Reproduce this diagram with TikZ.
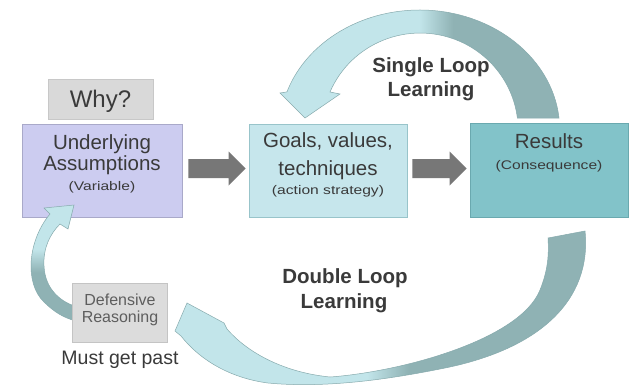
\documentclass[tikz,border=0pt]{standalone}
\usepackage{fontspec}
\setmainfont{Liberation Sans}
\usetikzlibrary{calc}
\definecolor{txt}{HTML}{3A3A3A}
\definecolor{deftxt}{HTML}{5E5E5E}
\definecolor{whyfill}{HTML}{D9D9D9}
\definecolor{whydraw}{HTML}{C8C8C8}
\definecolor{uafill}{HTML}{CCCCF0}
\definecolor{uadraw}{HTML}{A9A9C9}
\definecolor{gofill}{HTML}{C6E6EC}
\definecolor{godraw}{HTML}{98C4CA}
\definecolor{resfill}{HTML}{82C3C9}
\definecolor{resdraw}{HTML}{6AA9AF}
\definecolor{deffill}{HTML}{DCDCDC}
\definecolor{defdraw}{HTML}{C4C4C4}
\definecolor{garr}{HTML}{777777}
\definecolor{lc}{HTML}{C2E5EA}
\definecolor{dc}{HTML}{8FB2B4}
\definecolor{edgec}{HTML}{86AAAD}
\pgfdeclarehorizontalshading{slshade}{100bp}{color(0bp)=(lc); color(50bp)=(lc); color(56bp)=(dc); color(100bp)=(dc)}
\pgfdeclarehorizontalshading{dlshade}{100bp}{color(0bp)=(lc); color(48bp)=(lc); color(53bp)=(dc); color(100bp)=(dc)}
\pgfdeclareverticalshading{cshade}{100bp}{color(0bp)=(dc); color(46bp)=(dc); color(56bp)=(lc); color(100bp)=(lc)}
\newcommand\blockarr[2]{%
  \fill[garr] let \p1=(#1), \p2=(#2) in
    (\x1,\y1-9.5pt) -- (\x2-17pt,\y1-9.5pt) -- (\x2-17pt,\y1-17pt) -- (\x2,\y2)
    -- (\x2-17pt,\y1+17pt) -- (\x2-17pt,\y1+9.5pt) -- (\x1,\y1+9.5pt) -- cycle;}
\begin{document}
\begin{tikzpicture}[x=1pt,y=-1pt,
  box/.style={draw, line width=0.8pt, inner sep=0pt},
  title/.style={font=\fontsize{20.5}{24}\selectfont, text=txt, inner sep=0pt, anchor=base},
  sub/.style={font=\fontsize{12.5}{14}\selectfont, text=txt, inner sep=0pt, anchor=base},
  looptxt/.style={font=\fontsize{20.5}{24}\selectfont\bfseries, text=txt, inner sep=0pt, anchor=base},
  deftext/.style={font=\fontsize{16}{19}\selectfont, text=deftxt, inner sep=0pt, anchor=base},
  curved/.style={draw=edgec, line width=0.5pt}]
\fill[white] (0,0) rectangle (629,388);
\useasboundingbox (0,0) rectangle (629,388);

% single loop arrow
\shadedraw[curved, shading=slshade]
  (559,118) arc[start angle=-5.74, end angle=-161.5, x radius=140, y radius=120]
  -- (280,93) -- (305,118) -- (340,94) -- (330,92)
  arc[start angle=-156.9, end angle=-7.1, x radius=98, y radius=97] -- cycle;

% double loop arrow
\shadedraw[curved, shading=dlshade]
  (585,231) .. controls (592,300) and (540,350) .. (440,369)
  .. controls (380,381) and (320,388) .. (268,383)
  .. controls (230,378) and (200,360) .. (181,336)
  -- (175,331) -- (187,303) -- (224,323) -- (227,329)
  .. controls (245,350) and (280,372) .. (330,377)
  .. controls (400,372) and (520,340) .. (540,290)
  .. controls (548,270) and (549,255) .. (548,238) -- cycle;

% boxes
\node[box, fill=whyfill, draw=whydraw, minimum width=105pt, minimum height=40pt] (why) at (100.5,99) {};
\node[box, fill=uafill, draw=uadraw, minimum width=160pt, minimum height=93pt] (ua) at (102,170.5) {};
\node[box, fill=gofill, draw=godraw, minimum width=158pt, minimum height=93pt] (goals) at (328,170.5) {};
\node[box, fill=resfill, draw=resdraw, minimum width=158pt, minimum height=94pt] (res) at (549,170) {};

% block arrows
\coordinate (a1b) at ($(ua.east)+(6,-2)$);
\coordinate (a1t) at ($(goals.west)+(-3,-2)$);
\coordinate (a2b) at ($(goals.east)+(5,-2)$);
\coordinate (a2t) at ($(res.west)+(-3,-1.5)$);
\blockarr{a1b}{a1t}
\blockarr{a2b}{a2t}

% left C arrow
\shadedraw[curved, shading=cshade]
  (50,214) .. controls (28,240) and (24,283) .. (44,302)
  .. controls (54,312) and (64,318) .. (76,321)
  -- (78,307)
  .. controls (62,303) and (45,290) .. (44,266)
  .. controls (43,248) and (50,234) .. (60,224)
  -- (68,229) -- (74,205) -- (44,208) -- cycle;

\node[box, fill=deffill, draw=defdraw, minimum width=95pt, minimum height=59pt] (def) at (119.5,312.5) {};

% texts
\node[font=\fontsize{24}{28}\selectfont, text=txt, inner sep=0pt, anchor=base] (whyt) at (100.5,107) {Why?};
\node[title] (ua1) at (102,149.5) {Underlying};
\node[title] (ua2) at (102,170) {Assumptions};
\node[sub] (ua3) at (102,190) {\scalebox{1.25}[1]{(Variable)}};
\node[title] (go1) at (328,147) {Goals, values,};
\node[title] (go2) at (328,175) {techniques};
\node[sub] (go3) at (328,194.5) {\scalebox{1.25}[1]{(action strategy)}};
\node[title] (re1) at (549,148) {Results};
\node[sub] (re2) at (549,169.5) {\scalebox{1.25}[1]{(Consequence)}};
\node[looptxt] (sl1) at (431,72) {Single Loop};
\node[looptxt] (sl2) at (431,96) {Learning};
\node[looptxt] (dl1) at (345,283) {Double Loop};
\node[looptxt] (dl2) at (344,308) {Learning};
\node[deftext] (df1) at (120,305) {Defensive};
\node[deftext] (df2) at (120,322) {Reasoning};
\node[font=\fontsize{19.5}{23}\selectfont, text=txt, inner sep=0pt, anchor=base] (must) at (120,364) {Must get past};
\end{tikzpicture}
\end{document}
